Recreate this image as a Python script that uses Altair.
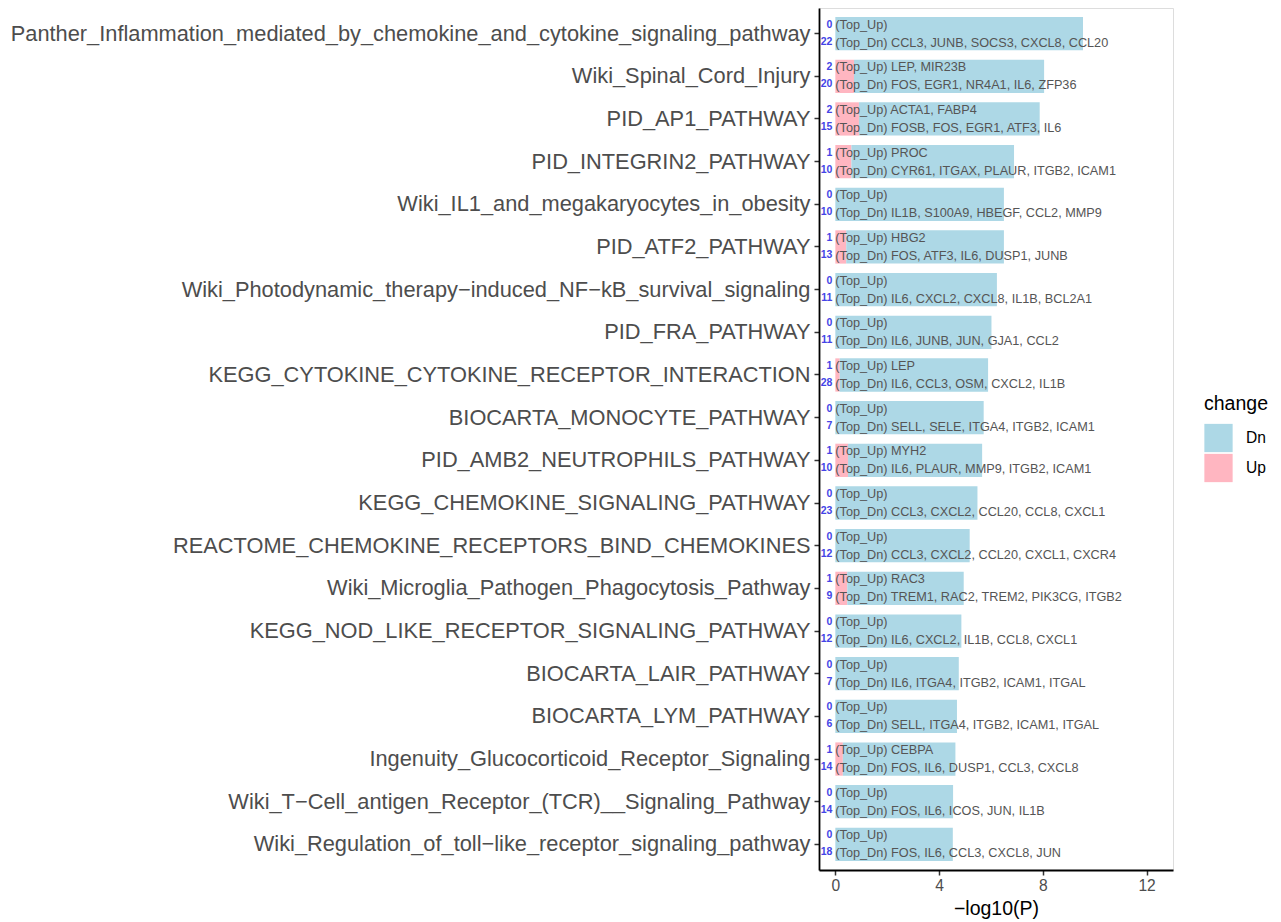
import altair as alt
import pandas as pd

# Pathways, top to bottom (hyphens shown as minus signs, as R's device prints them)
pathways = [
    "Panther_Inflammation_mediated_by_chemokine_and_cytokine_signaling_pathway",
    "Wiki_Spinal_Cord_Injury",
    "PID_AP1_PATHWAY",
    "PID_INTEGRIN2_PATHWAY",
    "Wiki_IL1_and_megakaryocytes_in_obesity",
    "PID_ATF2_PATHWAY",
    "Wiki_Photodynamic_therapy\u2212induced_NF\u2212kB_survival_signaling",
    "PID_FRA_PATHWAY",
    "KEGG_CYTOKINE_CYTOKINE_RECEPTOR_INTERACTION",
    "BIOCARTA_MONOCYTE_PATHWAY",
    "PID_AMB2_NEUTROPHILS_PATHWAY",
    "KEGG_CHEMOKINE_SIGNALING_PATHWAY",
    "REACTOME_CHEMOKINE_RECEPTORS_BIND_CHEMOKINES",
    "Wiki_Microglia_Pathogen_Phagocytosis_Pathway",
    "KEGG_NOD_LIKE_RECEPTOR_SIGNALING_PATHWAY",
    "BIOCARTA_LAIR_PATHWAY",
    "BIOCARTA_LYM_PATHWAY",
    "Ingenuity_Glucocorticoid_Receptor_Signaling",
    "Wiki_T\u2212Cell_antigen_Receptor_(TCR)__Signaling_Pathway",
    "Wiki_Regulation_of_toll\u2212like_receptor_signaling_pathway",
]

# -log10(P) contribution of up- and down-regulated genes (stacked segments)
up_logp = [0, 0.72, 0.91, 0.62, 0, 0.42, 0, 0, 0.17, 0,
           0.49, 0, 0, 0.46, 0, 0, 0, 0.29, 0, 0]
dn_logp = [9.55, 7.33, 6.97, 6.27, 6.50, 6.08, 6.23, 6.02, 5.72, 5.72,
           5.17, 5.48, 5.18, 4.49, 4.86, 4.76, 4.69, 4.34, 4.54, 4.53]

# Number of genes in each direction
n_up = [0, 2, 2, 1, 0, 1, 0, 0, 1, 0, 1, 0, 0, 1, 0, 0, 0, 1, 0, 0]
n_dn = [22, 20, 15, 10, 10, 13, 11, 11, 28, 7, 10, 23, 12, 9, 12, 7, 6, 14, 14, 18]

# Top genes in each direction
up_genes = ["", "LEP, MIR23B", "ACTA1, FABP4", "PROC", "", "HBG2", "", "",
            "LEP", "", "MYH2", "", "", "RAC3", "", "", "", "CEBPA", "", ""]
dn_genes = [
    "CCL3, JUNB, SOCS3, CXCL8, CCL20",
    "FOS, EGR1, NR4A1, IL6, ZFP36",
    "FOSB, FOS, EGR1, ATF3, IL6",
    "CYR61, ITGAX, PLAUR, ITGB2, ICAM1",
    "IL1B, S100A9, HBEGF, CCL2, MMP9",
    "FOS, ATF3, IL6, DUSP1, JUNB",
    "IL6, CXCL2, CXCL8, IL1B, BCL2A1",
    "IL6, JUNB, JUN, GJA1, CCL2",
    "IL6, CCL3, OSM, CXCL2, IL1B",
    "SELL, SELE, ITGA4, ITGB2, ICAM1",
    "IL6, PLAUR, MMP9, ITGB2, ICAM1",
    "CCL3, CXCL2, CCL20, CCL8, CXCL1",
    "CCL3, CXCL2, CCL20, CXCL1, CXCR4",
    "TREM1, RAC2, TREM2, PIK3CG, ITGB2",
    "IL6, CXCL2, IL1B, CCL8, CXCL1",
    "IL6, ITGA4, ITGB2, ICAM1, ITGAL",
    "SELL, ITGA4, ITGB2, ICAM1, ITGAL",
    "FOS, IL6, DUSP1, CCL3, CXCL8",
    "FOS, IL6, ICOS, JUN, IL1B",
    "FOS, IL6, CCL3, CXCL8, JUN",
]

FONT = "Liberation Sans"

bars = pd.DataFrame({
    "pathway": pathways * 2,
    "change": ["Up"] * len(pathways) + ["Dn"] * len(pathways),
    "logp": up_logp + dn_logp,
    "ord": [0] * len(pathways) + [1] * len(pathways),
})

labels = pd.DataFrame({
    "pathway": pathways,
    "up_text": [("(Top_Up) " + g).rstrip() for g in up_genes],
    "dn_text": ["(Top_Dn) " + g for g in dn_genes],
    "n_up": [str(v) for v in n_up],
    "n_dn": [str(v) for v in n_dn],
})

y_scale = alt.Scale(domain=pathways, paddingInner=0.22, paddingOuter=0.21)
x_scale = alt.Scale(domain=[-0.63, 13.02], nice=False, zero=False)

y_enc = alt.Y(
    "pathway:N", sort=pathways, scale=y_scale,
    axis=alt.Axis(title=None, labelFontSize=21.8, labelColor="#4D4D4D",
                  labelFont=FONT, labelPadding=4, tickSize=5,
                  tickColor="#333333", tickWidth=1.5, domainColor="black",
                  domainWidth=1.8, labelLimit=1000),
)

bar_layer = alt.Chart(bars).mark_bar().encode(
    y=y_enc,
    x=alt.X("logp:Q", stack="zero", scale=x_scale,
            axis=alt.Axis(title="\u2212log10(P)", values=[0, 4, 8, 12],
                          labelFontSize=15.6, labelColor="#4D4D4D",
                          labelFont=FONT, titleFont=FONT, titleFontSize=19.5,
                          titleFontWeight="normal", titleColor="black",
                          titlePadding=6, tickSize=5, tickColor="#333333",
                          tickWidth=1.5, domainColor="black", domainWidth=1.8,
                          labelPadding=3, grid=False)),
    color=alt.Color("change:N",
                    scale=alt.Scale(domain=["Dn", "Up"],
                                    range=["#ADD8E6", "#FFB6C1"]),
                    legend=alt.Legend(title="change", orient="none",
                                      legendX=385, legendY=387,
                                      titleFontSize=19.5, titleFont=FONT,
                                      titleFontWeight="normal",
                                      titleColor="black", titlePadding=9,
                                      labelFontSize=15.6, labelFont=FONT,
                                      labelColor="black", labelOffset=13,
                                      symbolType="square", symbolSize=800,
                                      symbolStrokeWidth=0, rowPadding=1,
                                      padding=0)),
    order=alt.Order("ord:Q"),
)

text_base = alt.Chart(labels).encode(
    y=alt.Y("pathway:N", sort=pathways, scale=y_scale),
    x=alt.datum(0, type="quantitative"),
)

up_text = text_base.mark_text(align="left", baseline="middle", dy=-9,
                              fontSize=12.7, font=FONT, color="#555555"
                              ).encode(text="up_text:N")
dn_text = text_base.mark_text(align="left", baseline="middle", dy=9,
                              fontSize=12.7, font=FONT, color="#555555"
                              ).encode(text="dn_text:N")
up_num = text_base.mark_text(align="right", baseline="middle", dy=-9, dx=-3,
                             fontSize=10.5, font=FONT, fontWeight="bold",
                             color="#4444E6").encode(text="n_up:N")
dn_num = text_base.mark_text(align="right", baseline="middle", dy=8, dx=-3,
                             fontSize=10.5, font=FONT, fontWeight="bold",
                             color="#4444E6").encode(text="n_dn:N")

chart = alt.layer(bar_layer, up_text, dn_text, up_num, dn_num).properties(
    width=354,
    height=862,
    autosize=alt.AutoSizeParams(type="none"),
    padding={"left": 819, "top": 8, "right": 108, "bottom": 52},
).configure_view(stroke=None).configure(background="white")

chart.save("out.html", embed_options={"renderer": "svg", "actions": False})
